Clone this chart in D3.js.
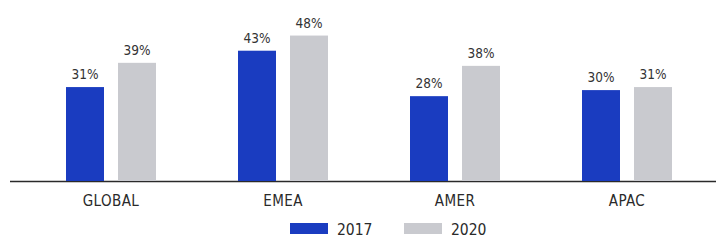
<!DOCTYPE html>
<html><head><meta charset="utf-8">
<script src="https://cdn.jsdelivr.net/npm/d3@7"></script>
<style>body{margin:0;background:#fff}svg{display:block}</style>
</head><body><svg id="c" width="723" height="242"></svg>
<script>
const categories = ["GLOBAL", "EMEA", "AMER", "APAC"];
const seriesNames = ["2017", "2020"];
const values2017 = [31, 43, 28, 30];
const values2020 = [39, 48, 38, 31];
const valueLabels2017 = ["31%", "43%", "28%", "30%"];
const valueLabels2020 = ["39%", "48%", "38%", "31%"];

const colors = {"2017": "#1a3cc0", "2020": "#c9cacf"};
const font = "'DejaVu Sans Condensed', 'Liberation Sans Narrow', sans-serif";
const svg = d3.select("#c");
const baseY = 181;
const y = d3.scaleLinear().domain([0, 10]).range([baseY, baseY - 30.3]);
const x0 = d3.scaleBand().domain(categories).range([25, 713]).paddingInner(0).paddingOuter(0);
const x1 = d3.scaleBand().domain(seriesNames).range([x0.bandwidth()/2 - 45, x0.bandwidth()/2 + 45]).paddingInner(14/52).paddingOuter(0);

const rows = categories.map((c, i) => ({cat: c, vals: [
  {s: "2017", v: values2017[i], lab: valueLabels2017[i]},
  {s: "2020", v: values2020[i], lab: valueLabels2020[i]}]}));

// axis line
svg.append("line").attr("x1", 10).attr("x2", 716).attr("y1", baseY + 0.5).attr("y2", baseY + 0.5)
  .attr("stroke", "#2a2a2a").attr("stroke-width", 1.5);

const g = svg.selectAll("g.cat").data(rows).join("g").attr("class", "cat")
  .attr("transform", d => `translate(${x0(d.cat)},0)`);
g.selectAll("rect").data(d => d.vals).join("rect")
  .attr("x", d => x1(d.s)).attr("width", x1.bandwidth())
  .attr("y", d => y(d.v)).attr("height", d => baseY - y(d.v))
  .attr("fill", d => colors[d.s]);
g.selectAll("text.v").data(d => d.vals).join("text").attr("class", "v")
  .attr("x", d => x1(d.s) + x1.bandwidth()/2).attr("y", d => y(d.v) - 8)
  .attr("text-anchor", "middle").attr("font-family", font).attr("font-size", 13.5)
  .attr("fill", "#333").text(d => d.lab);

// category axis labels
const xAxis = d3.axisBottom(x0).tickSize(0).tickPadding(0);
const ax = svg.append("g").attr("transform", `translate(0,${baseY})`).call(xAxis);
ax.select(".domain").remove();
ax.selectAll("text").attr("font-family", font).attr("font-size", 15)
  .attr("letter-spacing", 0.4).attr("fill", "#2a2a2a").attr("dy", null).attr("y", 24.5);

// legend
const legendX = d3.scaleOrdinal().domain(seriesNames).range([290, 404]);
const lg = svg.selectAll("g.lg").data(seriesNames).join("g").attr("class", "lg")
  .attr("transform", d => `translate(${legendX(d)},223)`);
lg.append("rect").attr("width", 38).attr("height", 11).attr("fill", d => colors[d]);
lg.append("text").attr("x", 47).attr("y", 11.5).attr("font-family", font).attr("font-size", 15.5)
  .attr("fill", "#2a2a2a").text(d => d);
</script></body></html>
